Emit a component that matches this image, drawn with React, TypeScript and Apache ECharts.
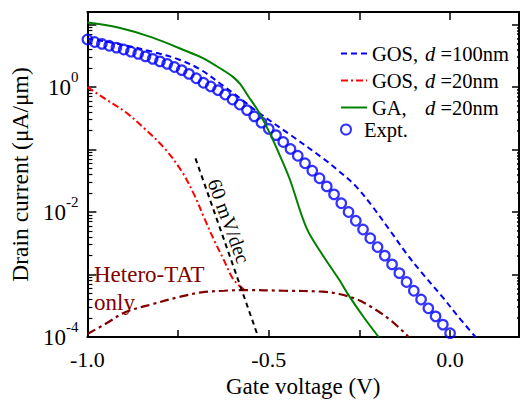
import React, { useEffect, useRef } from 'react';
import * as echarts from 'echarts';

const SERIF = '"Liberation Serif", "Times New Roman", serif';

// ---- data (gate voltage in V, drain current in µA/µm) ----
const exptVoltage = [
  -1.0, -0.98, -0.96, -0.94, -0.92, -0.9, -0.88, -0.86, -0.84, -0.82,
  -0.8, -0.78, -0.76, -0.74, -0.72, -0.7, -0.68, -0.66, -0.64, -0.62,
  -0.6, -0.58, -0.56, -0.54, -0.52, -0.5, -0.48, -0.46, -0.44, -0.42,
  -0.4, -0.38, -0.36, -0.34, -0.32, -0.3, -0.28, -0.26, -0.24, -0.22,
  -0.2, -0.18, -0.16, -0.14, -0.12, -0.1, -0.08, -0.06, -0.04, -0.02,
  0.0,
];
const exptCurrent = [
  5.75, 5.25, 4.9, 4.57, 4.27, 3.98, 3.67, 3.39, 3.09, 2.82,
  2.57, 2.34, 2.09, 1.86, 1.62, 1.38, 1.17, 1.02, 0.891, 0.759,
  0.631, 0.525, 0.427, 0.339, 0.269, 0.214, 0.17, 0.132, 0.102, 0.0794,
  0.0603, 0.0457, 0.0347, 0.0257, 0.0191, 0.0138, 0.01, 0.00724, 0.00525, 0.0038,
  0.00275, 0.002, 0.00145, 0.00105, 7.59e-4, 5.5e-4, 3.98e-4, 2.88e-4, 2.14e-4, 1.58e-4,
  1.15e-4,
];

const gos100Voltage = [-1.0, -0.91, -0.825, -0.75, -0.69, -0.625, -0.58, -0.535, -0.445, -0.35, -0.306, -0.26, -0.215, -0.165, -0.12, -0.08, -0.02, 0.02, 0.07];
const gos100Current = [6.0, 4.82, 3.72, 2.78, 1.93, 1.04, 0.668, 0.416, 0.179, 0.0719, 0.0448, 0.0259, 0.01245, 0.00499, 0.00215, 0.0011, 4.3e-4, 2.2e-4, 1.0e-4];

const gos20Voltage = [-1.0, -0.951, -0.896, -0.842, -0.787, -0.74, -0.705, -0.678, -0.65, -0.623, -0.601, -0.582, -0.568];
const gos20Current = [1.0, 0.645, 0.401, 0.215, 0.104, 0.0448, 0.0186, 0.00803, 0.00347, 0.00167, 8.96e-4, 6.68e-4, 5.78e-4];

const gaVoltage = [-1.0, -0.915, -0.822, -0.716, -0.68, -0.626, -0.598, -0.579, -0.557, -0.533, -0.506, -0.478, -0.443, -0.396, -0.352, -0.306, -0.279, -0.238, -0.197];
const gaCurrent = [10.8, 8.96, 6.22, 3.53, 2.88, 1.86, 1.44, 1.12, 0.719, 0.448, 0.232, 0.104, 0.0347, 0.00557, 0.00207, 8.3e-4, 4.6e-4, 2.07e-4, 1.0e-4];

const tatVoltage = [-1.0, -0.951, -0.896, -0.822, -0.751, -0.686, -0.623, -0.568, -0.459, -0.352, -0.306, -0.26, -0.216, -0.169, -0.123, -0.115];
const tatCurrent = [1.12e-4, 1.61e-4, 2.49e-4, 3.34e-4, 4.31e-4, 5.18e-4, 5.5e-4, 5.64e-4, 5.5e-4, 5.31e-4, 4.87e-4, 4.06e-4, 2.99e-4, 1.95e-4, 1.13e-4, 1.0e-4];

const slopeVoltage = [-0.702, -0.529];
const slopeCurrent = [0.0719, 1.0e-4];

const xTickLabels = ['-1.0', '-0.5', '0.0'];
const yLabelExponents = [-4, -2, 0];

const seriesNames = ['GOS100', 'GOS20', 'GA', 'Expt.'];

const pairs = (xs: number[], ys: number[]) => xs.map((x, i) => [x, ys[i]]);

const BLUE = '#0000ff';
const RED = '#ff0000';
const GREEN = '#008000';
const MAROON = '#800000';

const LEGEND_FONT = 20.5;

const legendRich = {
  a: { width: 53, fontSize: LEGEND_FONT, fontFamily: SERIF, color: '#000', lineHeight: 20 },
  i: { fontSize: LEGEND_FONT, fontFamily: SERIF, fontStyle: 'italic', color: '#000', lineHeight: 20 },
  b: { fontSize: LEGEND_FONT, fontFamily: SERIF, color: '#000', lineHeight: 20 },
};

const legendFormatter = (name: string) => {
  if (name === 'GOS100') return '{a|GOS,}{i|d}{b| =100nm}';
  if (name === 'GOS20') return '{a|GOS,}{i|d}{b| =20nm}';
  if (name === 'GA') return '{a|GA,}{i|d}{b| =20nm}';
  return '{b|Expt.}';
};

const xFormatter = (v: number) => {
  const s = v.toFixed(1);
  const ok = Math.abs(v * 2 - Math.round(v * 2)) < 1e-6;
  return ok && xTickLabels.includes(s) ? s : '';
};

const yFormatter = (v: number) => {
  const lg = Math.log10(v);
  const e = Math.round(lg);
  if (Math.abs(lg - e) > 1e-6 || !yLabelExponents.includes(e)) return '';
  return `{b|10}{s|${e}}`;
};

const axisLineStyle = { lineStyle: { color: '#000', width: 2 } };

const lineCommon = {
  type: 'line',
  showSymbol: false,
  symbol: 'none',
  smooth: 0.35,
};

const option: any = {
  animation: false,
  backgroundColor: '#fff',
  textStyle: { fontFamily: SERIF, color: '#000' },
  grid: { left: 86, right: 1, top: 12, bottom: 63 },
  legend: [
    {
      data: seriesNames.slice(0, 3),
      orient: 'vertical',
      left: 340,
      top: 43,
      itemWidth: 26,
      itemHeight: 14,
      itemGap: 6,
      padding: 0,
      selectedMode: false,
      itemStyle: { opacity: 0 },
      formatter: legendFormatter,
      textStyle: { fontSize: LEGEND_FONT, fontFamily: SERIF, color: '#000', rich: legendRich },
    },
    {
      data: [seriesNames[3]],
      orient: 'vertical',
      left: 340,
      top: 119,
      itemWidth: 26,
      itemHeight: 10,
      padding: 0,
      selectedMode: false,
      formatter: legendFormatter,
      textStyle: { fontSize: LEGEND_FONT, fontFamily: SERIF, color: '#000', rich: legendRich },
    },
  ],
  xAxis: [
    {
      type: 'value',
      min: -1.0,
      max: 0.19,
      interval: 0.25,
      position: 'bottom',
      axisLine: { onZero: false, ...axisLineStyle },
      axisTick: { inside: true, length: 7, lineStyle: { color: '#000', width: 1.5 } },
      axisLabel: { formatter: xFormatter, fontSize: 22, fontFamily: SERIF, color: '#000', margin: 11 },
      splitLine: { show: false },
      name: 'Gate voltage (V)',
      nameLocation: 'middle',
      nameGap: 38,
      nameTextStyle: { fontSize: 23, fontFamily: SERIF, color: '#000' },
    },
    {
      type: 'value',
      min: -1.0,
      max: 0.19,
      interval: 0.25,
      position: 'top',
      axisLine: { onZero: false, ...axisLineStyle },
      axisTick: { inside: true, length: 8, lineStyle: { color: '#000', width: 1.5 } },
      axisLabel: { show: false },
      splitLine: { show: false },
    },
  ],
  yAxis: [
    {
      type: 'log',
      logBase: 10,
      min: 1e-4,
      max: 15.85,
      position: 'left',
      axisLine: { onZero: false, ...axisLineStyle },
      axisTick: { inside: true, length: 9, lineStyle: { color: '#000', width: 1.5 } },
      minorTick: { show: true, splitNumber: 9, length: 5, lineStyle: { color: '#000', width: 1.2 } },
      axisLabel: {
        formatter: yFormatter,
        margin: 9,
        color: '#000',
        rich: {
          b: { fontSize: 23, fontFamily: SERIF, color: '#000', lineHeight: 36, verticalAlign: 'middle' },
          s: { fontSize: 15, fontFamily: SERIF, color: '#000', lineHeight: 15, verticalAlign: 'top' },
        },
      },
      splitLine: { show: false },
      minorSplitLine: { show: false },
      name: 'Drain current (\u03bcA/\u03bcm)',
      nameLocation: 'middle',
      nameGap: 50,
      nameTextStyle: { fontSize: 23.5, fontFamily: SERIF, color: '#000' },
    },
    {
      type: 'log',
      logBase: 10,
      min: 1e-4,
      max: 15.85,
      position: 'right',
      axisLine: { onZero: false, ...axisLineStyle },
      axisTick: { inside: true, length: 7, lineStyle: { color: '#000', width: 1.5 } },
      minorTick: { show: true, splitNumber: 9, length: 2, lineStyle: { color: '#000', width: 1.5 } },
      axisLabel: { show: false },
      splitLine: { show: false },
      minorSplitLine: { show: false },
    },
  ],
  series: [
    {
      ...lineCommon,
      name: 'GOS100',
      data: pairs(gos100Voltage, gos100Current),
      lineStyle: { color: BLUE, width: 2, type: [6, 4] },
      itemStyle: { color: BLUE },
      z: 3,
    },
    {
      ...lineCommon,
      name: 'GOS20',
      data: pairs(gos20Voltage, gos20Current),
      lineStyle: { color: RED, width: 2, type: [7, 3, 2, 3] },
      itemStyle: { color: RED },
      z: 3,
    },
    {
      ...lineCommon,
      name: 'GA',
      data: pairs(gaVoltage, gaCurrent),
      lineStyle: { color: GREEN, width: 2 },
      itemStyle: { color: GREEN },
      z: 4,
    },
    {
      name: 'Expt.',
      type: 'scatter',
      data: pairs(exptVoltage, exptCurrent),
      symbol: 'circle',
      symbolSize: 9.5,
      itemStyle: { color: 'rgba(255,255,255,0)', borderColor: BLUE, borderWidth: 2.2 },
      z: 3,
    },
    {
      ...lineCommon,
      name: 'Hetero-TAT',
      data: pairs(tatVoltage, tatCurrent),
      lineStyle: { color: MAROON, width: 2.2, type: [9, 4, 3, 4] },
      itemStyle: { color: MAROON },
      z: 5,
    },
    {
      type: 'line',
      name: 'slope',
      data: pairs(slopeVoltage, slopeCurrent),
      showSymbol: false,
      symbol: 'none',
      lineStyle: { color: '#000', width: 2, type: [5, 4] },
      itemStyle: { color: '#000' },
      z: 5,
    },
  ],
  graphic: [
    {
      type: 'text',
      x: 229,
      y: 221,
      rotation: (-70 * Math.PI) / 180,
      style: {
        text: '60 mV/dec',
        fontSize: 20,
        fontFamily: SERIF,
        fill: '#000',
        align: 'center',
        verticalAlign: 'middle',
      },
      z: 10,
    },
    {
      type: 'text',
      x: 94,
      y: 274,
      style: { text: 'Hetero-TAT', fontSize: 23, fontFamily: SERIF, fill: MAROON, align: 'left', verticalAlign: 'middle' },
      z: 10,
    },
    {
      type: 'text',
      x: 94,
      y: 302,
      style: { text: 'only', fontSize: 23, fontFamily: SERIF, fill: MAROON, align: 'left', verticalAlign: 'middle' },
      z: 10,
    },
  ],
};

export default function App() {
  const ref = useRef<HTMLDivElement>(null);
  useEffect(() => {
    document.body.style.margin = '0';
    const chart = echarts.init(ref.current as HTMLDivElement, undefined, { renderer: 'svg' });
    chart.setOption(option);
    return () => chart.dispose();
  }, []);
  return <div ref={ref} style={{ width: 522, height: 403 }} />;
}
